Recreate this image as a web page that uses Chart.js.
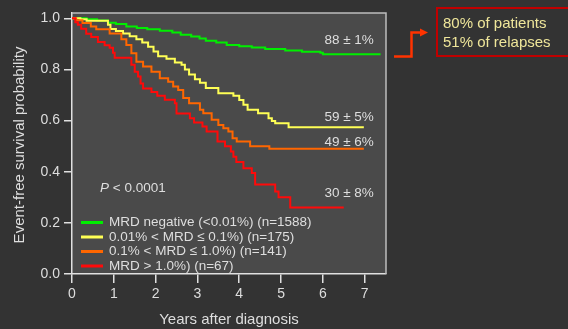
<!DOCTYPE html>
<html>
<head>
<meta charset="utf-8">
<script src="https://cdn.jsdelivr.net/npm/chart.js@4/dist/chart.umd.min.js"></script>
<style>
  html, body { margin: 0; padding: 0; background: #333333; }
  #wrap { width: 568px; height: 329px; }
</style>
</head>
<body>
<div id="wrap"><canvas id="km" width="568" height="329"></canvas></div>
<script>
// Kaplan-Meier event-free survival by MRD level (step times in years, survival after each step)
const seriesNames = [
  'MRD negative (<0.01%) (n=1588)',
  '0.01% < MRD \u2264 0.1%) (n=175)',
  '0.1% < MRD \u2264 1.0%) (n=141)',
  'MRD > 1.0%) (n=67)'
];
const seriesColors = ['#00ee00', '#ffff55', '#ff6600', '#ff0a0a'];

const negTimes = [0, 0.35, 0.6, 0.86, 1.05, 1.3, 1.55, 1.8, 2.1, 2.4, 2.6, 2.85, 3.05, 3.2, 3.45, 3.7, 4.0, 4.3, 4.62, 5.1, 5.5, 5.94, 6.0, 7.38];
const negSurv  = [1.0, 0.996, 0.991, 0.983, 0.978, 0.968, 0.962, 0.957, 0.951, 0.944, 0.936, 0.929, 0.921, 0.912, 0.905, 0.896, 0.891, 0.886, 0.880, 0.874, 0.869, 0.865, 0.859, 0.859];

const lowTimes = [0, 0.2, 0.35, 0.86, 0.92, 1.05, 1.22, 1.38, 1.54, 1.68, 1.82, 1.95, 2.06, 2.26, 2.46, 2.62, 2.7, 2.8, 2.94, 3.06, 3.2, 3.5, 3.86, 4.0, 4.1, 4.2, 4.45, 4.7, 4.78, 4.86, 5.18, 6.98];
const lowSurv  = [1.0, 0.996, 0.990, 0.975, 0.958, 0.950, 0.941, 0.930, 0.918, 0.905, 0.889, 0.870, 0.852, 0.842, 0.827, 0.818, 0.800, 0.780, 0.762, 0.748, 0.727, 0.707, 0.697, 0.680, 0.662, 0.642, 0.629, 0.609, 0.598, 0.590, 0.574, 0.574];

const midTimes = [0, 0.1, 0.25, 0.45, 0.58, 0.9, 1.18, 1.3, 1.42, 1.54, 1.7, 1.9, 2.1, 2.3, 2.42, 2.54, 2.66, 2.8, 3.06, 3.14, 3.34, 3.5, 3.62, 3.74, 3.84, 3.94, 4.26, 4.72, 6.98];
const midSurv  = [1.0, 0.992, 0.982, 0.968, 0.957, 0.941, 0.918, 0.896, 0.863, 0.830, 0.811, 0.791, 0.766, 0.752, 0.733, 0.720, 0.688, 0.668, 0.642, 0.629, 0.603, 0.583, 0.570, 0.557, 0.531, 0.518, 0.500, 0.490, 0.490];

const highTimes = [0, 0.08, 0.14, 0.22, 0.34, 0.46, 0.62, 0.78, 0.9, 0.98, 1.02, 1.42, 1.5, 1.58, 1.64, 1.7, 1.9, 2.04, 2.22, 2.46, 2.5, 2.82, 2.92, 3.12, 3.22, 3.48, 3.66, 3.8, 3.86, 3.93, 4.1, 4.3, 4.38, 4.86, 4.94, 5.22, 6.5];
const highSurv  = [1.0, 0.985, 0.975, 0.959, 0.940, 0.927, 0.907, 0.895, 0.885, 0.865, 0.846, 0.818, 0.791, 0.772, 0.745, 0.725, 0.712, 0.697, 0.681, 0.668, 0.628, 0.609, 0.592, 0.577, 0.557, 0.518, 0.500, 0.479, 0.459, 0.438, 0.414, 0.395, 0.350, 0.323, 0.300, 0.260, 0.260];

// 5-year estimates printed beside each curve
const fiveYearLabels = ['88 \u00b1 1%', '59 \u00b1 5%', '49 \u00b1 6%', '30 \u00b1 8%'];
const fiveYearValues = [0.88, 0.59, 0.49, 0.30];

const xTickValues = [0, 1, 2, 3, 4, 5, 6, 7];
const yTickValues = [0, 0.2, 0.4, 0.6, 0.8, 1.0];

const FONT = '"Liberation Sans", Arial, Helvetica, sans-serif';
const TEXT = '#dedede';

const allTimes = [negTimes, lowTimes, midTimes, highTimes];
const allSurv = [negSurv, lowSurv, midSurv, highSurv];

const datasets = allTimes.map((ts, i) => ({
  label: seriesNames[i],
  data: ts.map((t, k) => ({ x: t, y: allSurv[i][k] })),
  borderColor: seriesColors[i],
  backgroundColor: seriesColors[i],
  borderWidth: 2,
  stepped: 'before',
  pointRadius: 0,
  fill: false
})).reverse(); // draw green on top

// label vertical offsets (pixels above the curve's final level)
const labelLift = [14, 10, 6, 14];

const decor = {
  id: 'decor',
  beforeDraw(chart) {
    const { ctx, chartArea: a } = chart;
    ctx.save();
    ctx.fillStyle = '#333333';
    ctx.fillRect(0, 0, chart.width, chart.height);
    ctx.fillStyle = '#4a4a4a';
    ctx.fillRect(a.left, a.top, a.right - a.left, a.bottom - a.top);
    ctx.restore();
  },
  afterDraw(chart) {
    const { ctx, chartArea: a, scales } = chart;
    const xs = scales.x, ys = scales.y;
    ctx.save();
    // frame top and right
    ctx.strokeStyle = '#bdbdbd';
    ctx.lineWidth = 1.5;
    ctx.beginPath();
    ctx.moveTo(a.left, a.top);
    ctx.lineTo(a.right, a.top);
    ctx.lineTo(a.right, a.bottom);
    ctx.stroke();

    // estimate labels
    ctx.fillStyle = TEXT;
    ctx.font = '13.5px ' + FONT;
    ctx.textAlign = 'right';
    ctx.textBaseline = 'middle';
    const ends = allSurv.map(s => s[s.length - 1]);
    fiveYearLabels.forEach((lab, i) => {
      ctx.fillText(lab, xs.getPixelForValue(7.22), ys.getPixelForValue(ends[i]) - labelLift[i]);
    });

    // P value
    ctx.textAlign = 'left';
    ctx.font = 'italic 13.5px ' + FONT;
    const px = 100, py = 188;
    ctx.fillText('P', px, py);
    const pw = ctx.measureText('P').width;
    ctx.font = '13.5px ' + FONT;
    ctx.fillText(' < 0.0001', px + pw, py);

    // legend
    const rows = [222.5, 237, 251.5, 266];
    seriesNames.forEach((name, i) => {
      ctx.strokeStyle = seriesColors[i];
      ctx.lineWidth = 3;
      ctx.beginPath();
      ctx.moveTo(81, rows[i]);
      ctx.lineTo(103, rows[i]);
      ctx.stroke();
      ctx.fillStyle = TEXT;
      ctx.fillText(name, 109, rows[i]);
    });

    // axis titles
    ctx.font = '15px ' + FONT;
    ctx.textAlign = 'center';
    ctx.fillText('Years after diagnosis', 229, 320);
    ctx.save();
    ctx.translate(20, 145);
    ctx.rotate(-Math.PI / 2);
    ctx.fillText('Event-free survival probability', 0, 0);
    ctx.restore();

    // callout arrow and box
    ctx.strokeStyle = '#ff3300';
    ctx.lineWidth = 2.5;
    ctx.beginPath();
    ctx.moveTo(394, 56.5);
    ctx.lineTo(411.5, 56.5);
    ctx.lineTo(411.5, 32.5);
    ctx.lineTo(422, 32.5);
    ctx.stroke();
    ctx.fillStyle = '#ff3300';
    ctx.beginPath();
    ctx.moveTo(428, 32.5);
    ctx.lineTo(420, 28.5);
    ctx.lineTo(420, 36.5);
    ctx.closePath();
    ctx.fill();

    ctx.strokeStyle = '#c00000';
    ctx.lineWidth = 2;
    ctx.strokeRect(437, 8, 135, 48);
    ctx.fillStyle = '#efe69a';
    ctx.font = '15px ' + FONT;
    ctx.textAlign = 'left';
    ctx.fillText('80% of patients', 443, 23.5);
    ctx.fillText('51% of relapses', 443, 43);
    ctx.restore();
  }
};

new Chart(document.getElementById('km'), {
  type: 'line',
  data: { datasets },
  options: {
    responsive: false,
    animation: false,
    devicePixelRatio: 1,
    layout: { padding: { top: 13, right: 182, left: 0, bottom: 0 } },
    plugins: { legend: { display: false }, tooltip: { enabled: false } },
    scales: {
      x: {
        type: 'linear',
        min: 0,
        max: 7.51,
        afterBuildTicks: s => { s.ticks = xTickValues.map(v => ({ value: v })); },
        afterFit: s => { s.height = 55; },
        grid: { drawOnChartArea: false, drawTicks: true, tickLength: 9, color: '#e0e0e0', lineWidth: 1.5 },
        border: { display: true, color: '#e0e0e0', width: 1.5 },
        ticks: { color: TEXT, font: { size: 14, family: FONT }, padding: 3, maxRotation: 0, callback: v => String(v) }
      },
      y: {
        type: 'linear',
        min: 0,
        max: 1.0207,
        afterBuildTicks: s => { s.ticks = yTickValues.map(v => ({ value: v })); },
        afterFit: s => { s.width = 72; },
        grid: { drawOnChartArea: false, drawTicks: true, tickLength: 8, color: '#e0e0e0', lineWidth: 1.5 },
        border: { display: true, color: '#e0e0e0', width: 1.5 },
        ticks: { color: TEXT, font: { size: 14, family: FONT }, padding: 4, callback: v => Number(v).toFixed(1) }
      }
    }
  },
  plugins: [decor]
});
</script>
</body>
</html>
